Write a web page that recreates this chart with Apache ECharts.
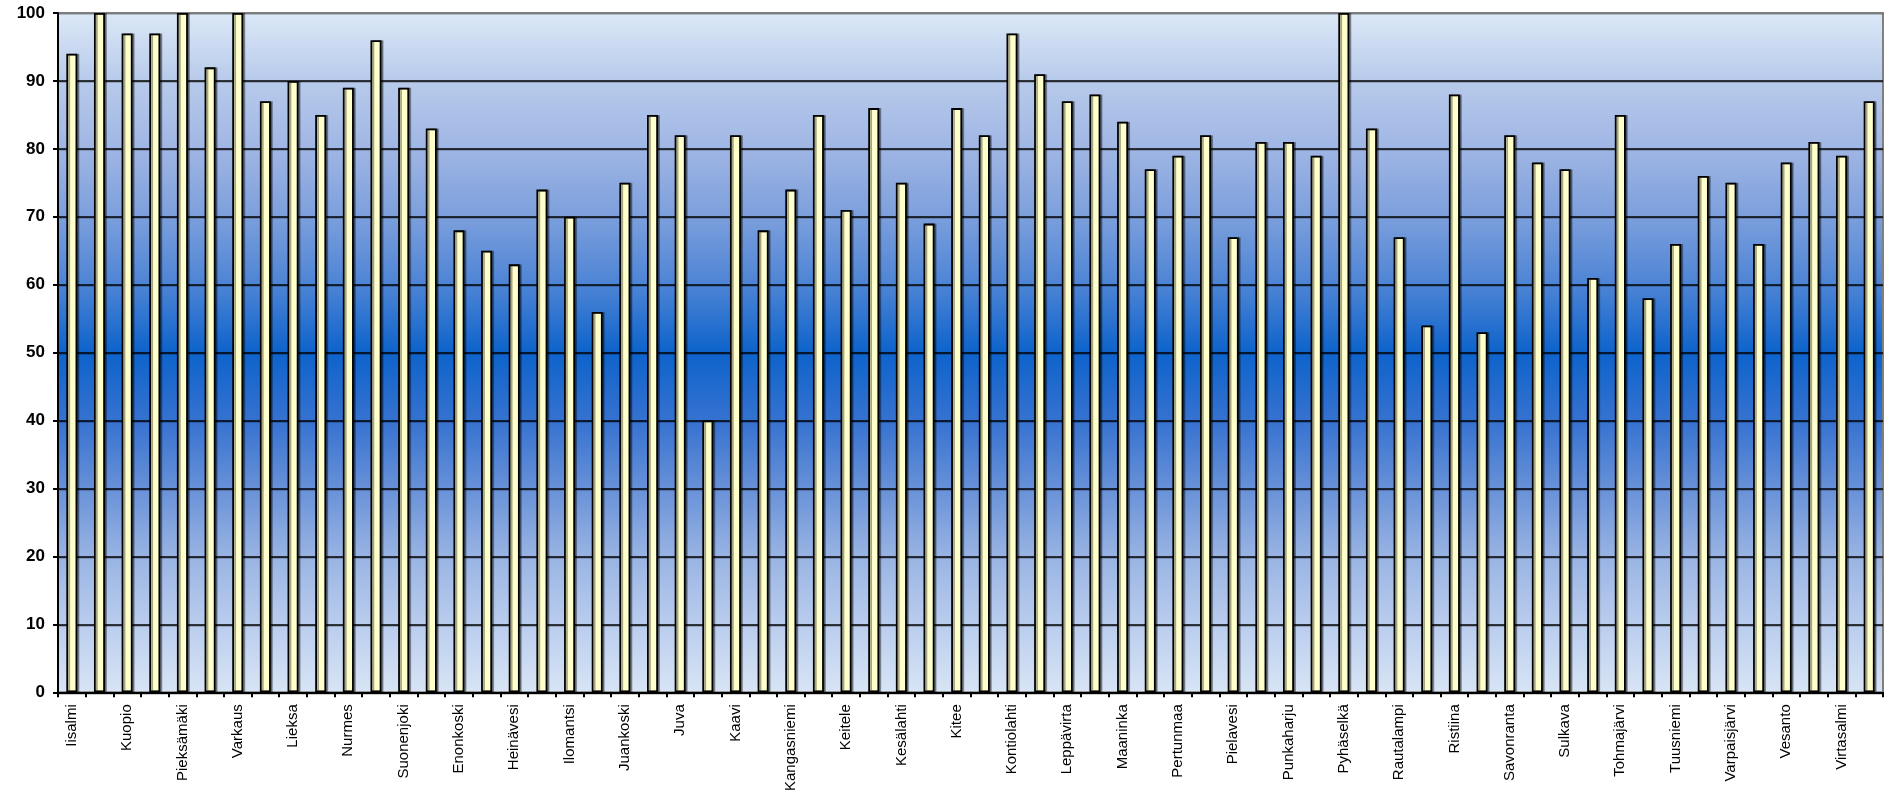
<!DOCTYPE html>
<html>
<head>
<meta charset="utf-8">
<script src="https://cdn.jsdelivr.net/npm/echarts@6/dist/echarts.min.js"></script>
<style>html,body{margin:0;padding:0;background:#fff;}#c{width:1890px;height:794px;}</style>
</head>
<body>
<div id="c"></div>
<script>
var categories = ["Iisalmi","Joensuu","Kuopio","Mikkeli","Pieksämäki","Savonlinna","Varkaus","Kiuruvesi","Lieksa","Nilsiä",
"Nurmes","Outokumpu","Suonenjoki","Anttola","Enonkoski","Haukivuori","Heinävesi","Hirvensalmi","Ilomantsi","Joroinen",
"Juankoski","Juuka","Juva","Jäppilä","Kaavi","Kangaslampi","Kangasniemi","Karttula","Keitele","Kerimäki",
"Kesälahti","Kiihtelysvaara","Kitee","Konnevesi","Kontiolahti","Lapinlahti","Leppävirta","Liperi","Maaninka","Mäntyharju",
"Pertunmaa","Pieksänmaa","Pielavesi","Polvijärvi","Punkaharju","Puumala","Pyhäselkä","Rantasalmi","Rautalampi","Rautavaara",
"Ristiina","Rääkkylä","Savonranta","Siilinjärvi","Sulkava","Tervo","Tohmajärvi","Tuupovaara","Tuusniemi","Valtimo",
"Varpaisjärvi","Vehmersalmi","Vesanto","Vieremä","Virtasalmi","Värtsilä"];
var values = [94,100,97,97,100,92,100,87,90,85,
89,96,89,83,68,65,63,74,70,56,
75,85,82,40,82,68,74,85,71,86,
75,69,86,82,97,91,87,88,84,77,
79,82,67,81,81,79,100,83,67,54,
88,53,82,78,77,61,85,58,66,76,
75,66,78,81,79,87];
var yMin = 0, yMax = 100, yStep = 10;

var chart = echarts.init(document.getElementById('c'), null, {renderer: 'canvas'});
var gridColors = [];
for (var i = 0; i < 10; i++) gridColors.push('#000000');
gridColors.push('#808080');

chart.setOption({
  animation: false,
  backgroundColor: '#ffffff',
  grid: {
    left: 58, right: 7, top: 13, bottom: 99,
    show: true,
    borderColor: '#808080',
    borderWidth: 2,
    backgroundColor: {
      type: 'linear', x: 0, y: 0, x2: 0, y2: 1,
      colorStops: [
        {offset: 0.0, color: '#dce8f7'},
        {offset: 0.1, color: '#b8cbeb'},
        {offset: 0.2, color: '#a0b6e4'},
        {offset: 0.3, color: '#7c9fdc'},
        {offset: 0.4, color: '#4d84d5'},
        {offset: 0.5, color: '#0d63cb'},
        {offset: 0.6, color: '#3672d0'},
        {offset: 0.7, color: '#6891d8'},
        {offset: 0.8, color: '#99b4e3'},
        {offset: 0.9, color: '#bacdee'},
        {offset: 1.0, color: '#d8e5f5'}
      ]
    }
  },
  xAxis: {
    type: 'category',
    data: categories,
    boundaryGap: true,
    axisLine: {show: true, lineStyle: {color: '#000', width: 2}},
    axisTick: {show: true, interval: 0, length: 5, inside: false, lineStyle: {color: '#000', width: 2}},
    axisLabel: {
      interval: 1,
      rotate: 90,
      margin: 12,
      fontSize: 15,
      color: '#000',
      fontFamily: 'Liberation Sans, Arial, sans-serif'
    },
    splitLine: {show: false}
  },
  yAxis: {
    type: 'value',
    min: yMin, max: yMax, interval: yStep,
    axisLine: {show: true, lineStyle: {color: '#000', width: 2}},
    axisTick: {show: true, length: 5, inside: false, lineStyle: {color: '#000', width: 2}},
    axisLabel: {
      margin: 13,
      fontSize: 17,
      fontWeight: 'bold',
      color: '#000',
      fontFamily: 'Liberation Sans, Arial, sans-serif'
    },
    splitLine: {
      show: true,
      lineStyle: {color: gridColors, width: 1.6, shadowColor: 'rgba(0,0,0,0.25)', shadowOffsetY: 1}
    }
  },
  series: [{
    type: 'bar',
    data: values,
    barWidth: 11,
    itemStyle: {
      color: '#ffffcc',
      borderColor: '#000000',
      borderWidth: 1.8,
      shadowColor: 'rgba(0,0,0,0.35)',
      shadowOffsetX: 2,
      shadowOffsetY: 0
    },
    emphasis: {disabled: true}
  }]
});
</script>
</body>
</html>
